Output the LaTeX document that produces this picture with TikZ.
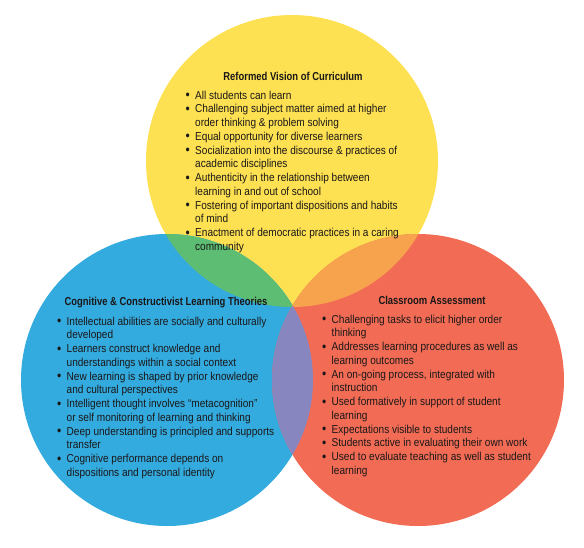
\documentclass[tikz,border=0pt]{standalone}
\usepackage{fontspec}
\setmainfont[FakeStretch=0.875, BoldFeatures={FakeStretch=0.82}]{Liberation Sans}
\usepackage{array}
\definecolor{cyellow}{HTML}{FEE152}
\definecolor{cblue}{HTML}{34ABDF}
\definecolor{cred}{HTML}{F26C55}
\definecolor{cgreen}{HTML}{5DBD73}
\definecolor{corange}{HTML}{F7A34E}
\definecolor{cpurple}{HTML}{8886BF}
\definecolor{ink}{HTML}{1A1718}
\newcommand{\bul}{\raisebox{-0.7pt}{\scalebox{1.2}{\textbullet}}}
\newenvironment{blist}{\fontsize{11.5}{13.75}\selectfont\begin{tabular}[t]{@{}p{9.5pt}@{}l@{}}}{\end{tabular}}
\tikzset{
  heading/.style={inner sep=0pt, anchor=base, text=ink, font=\fontsize{11.5}{13.75}\selectfont\bfseries},
  items/.style={inner sep=0pt, anchor=base west, text=ink},
}
\begin{document}
\begin{tikzpicture}[x=1pt,y=-1pt]
\useasboundingbox (0,0) rectangle (584,547);
% the three circles
\coordinate (cy) at (292,161);
\coordinate (cb) at (167,380);
\coordinate (cr) at (418,380);
\def\rad{146}
\fill[cyellow] (cy) circle (\rad);
\fill[cblue] (cb) circle (\rad);
\fill[cred] (cr) circle (\rad);
% pairwise overlaps
\begin{scope}
  \clip (cy) circle (\rad);
  \fill[cgreen] (cb) circle (\rad);
  \fill[corange] (cr) circle (\rad);
\end{scope}
\begin{scope}
  \clip (cb) circle (\rad);
  \fill[cpurple] (cr) circle (\rad);
\end{scope}
% Reformed Vision of Curriculum
\node[heading] (ytitle) at (293,80) {Reformed Vision of Curriculum};
\node[items] (ylist) at (185.5,99) {\begin{blist}
\bul & All students can learn\\
\bul & Challenging subject matter aimed at higher\\
 & order thinking \& problem solving\\
\bul & Equal opportunity for diverse learners\\
\bul & Socialization into the discourse \& practices of\\
 & academic disciplines\\
\bul & Authenticity in the relationship between\\
 & learning in and out of school\\
\bul & Fostering of important dispositions and habits\\
 & of mind\\
\bul & Enactment of democratic practices in a caring\\
 & community
\end{blist}};
% Cognitive & Constructivist Learning Theories
\node[heading] (btitle) at (166,305) {Cognitive \& Constructivist Learning Theories};
\node[items] (blist) at (57,325) {\begin{blist}
\bul & Intellectual abilities are socially and culturally\\
 & developed\\
\bul & Learners construct knowledge and\\
 & understandings within a social context\\
\bul & New learning is shaped by prior knowledge\\
 & and cultural perspectives\\
\bul & Intelligent thought involves ``metacognition''\\
 & or self monitoring of learning and thinking\\
\bul & Deep understanding is principled and supports\\
 & transfer\\
\bul & Cognitive performance depends on\\
 & dispositions and personal identity
\end{blist}};
% Classroom Assessment
\node[heading] (rtitle) at (432,304) {Classroom Assessment};
\node[items] (rlist) at (322,323) {\begin{blist}
\bul & Challenging tasks to elicit higher order\\
 & thinking\\
\bul & Addresses learning procedures as well as\\
 & learning outcomes\\
\bul & An on-going process, integrated with\\
 & instruction\\
\bul & Used formatively in support of student\\
 & learning\\
\bul & Expectations visible to students\\
\bul & Students active in evaluating their own work\\
\bul & Used to evaluate teaching as well as student\\
 & learning
\end{blist}};
\end{tikzpicture}
\end{document}
